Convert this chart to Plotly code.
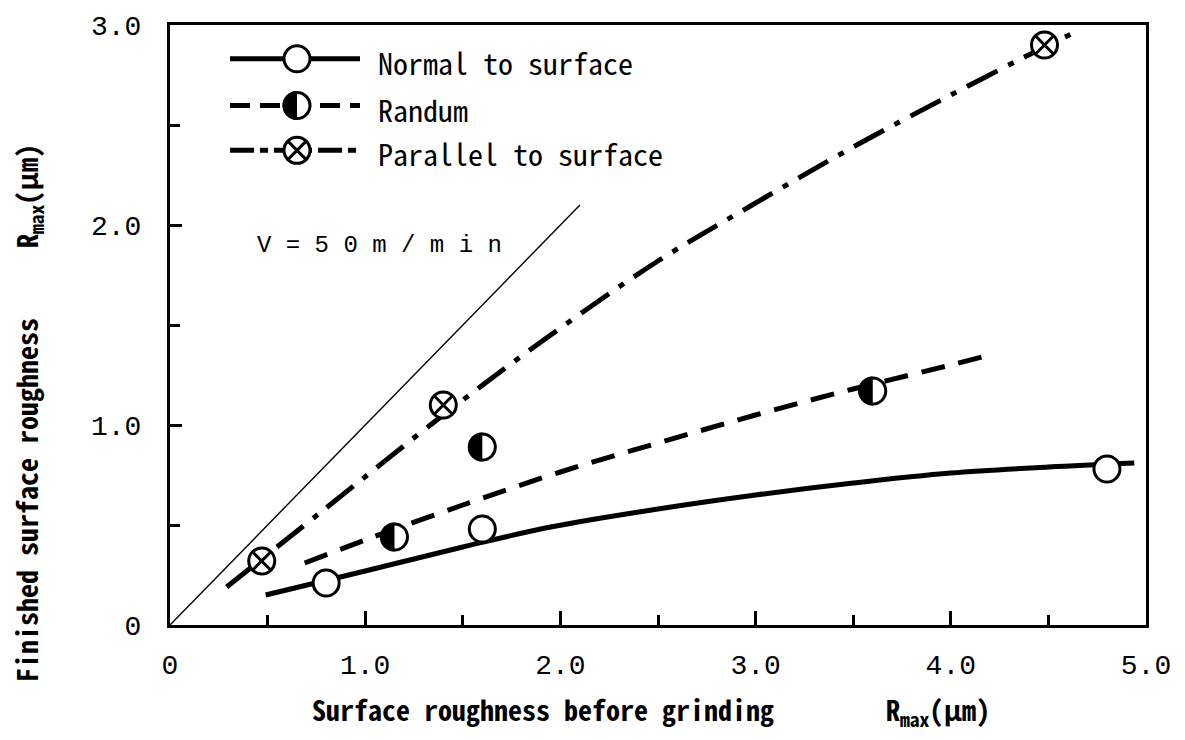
import plotly.graph_objects as go

# ---------------- data ----------------
normal_x = [0.80, 1.60, 4.80]
normal_y = [0.21, 0.48, 0.78]
randum_x = [1.15, 1.60, 3.60]
randum_y = [0.44, 0.89, 1.17]
parallel_x = [0.47, 1.40, 4.48]
parallel_y = [0.32, 1.10, 2.90]

# fitted curves as drawn in the figure
normal_curve_x = [0.49, 1.0, 1.5, 1.95, 2.5, 3.0, 3.5, 4.0, 4.5, 4.94]
normal_curve_y = [0.15, 0.27, 0.39, 0.49, 0.58, 0.65, 0.71, 0.76, 0.79, 0.81]
randum_curve_x = [0.69, 1.0, 1.5, 2.0, 2.5, 3.0, 3.5, 4.0, 4.22]
randum_curve_y = [0.31, 0.425, 0.60, 0.765, 0.91, 1.05, 1.18, 1.30, 1.355]
parallel_curve_x = [0.29, 0.78, 1.4, 1.95, 2.5, 3.0, 3.5, 4.0, 4.48, 4.65]
parallel_curve_y = [0.19, 0.57, 1.05, 1.45, 1.82, 2.11, 2.39, 2.65, 2.89, 2.97]

# reference line (finished = before)
ideal_x = [0.0, 2.1]
ideal_y = [0.0, 2.1]

x_ticks = [0, 1, 2, 3, 4, 5]
x_tick_text = ["0", "1.0", "2.0", "3.0", "4.0", "5.0"]
x_minor = [0.5, 1.5, 2.5, 3.5, 4.5]
y_ticks = [0, 1, 2, 3]
y_tick_text = ["0", "1.0", "2.0", "3.0"]
y_minor = [0.5, 1.5, 2.5]

legend_labels = ["Normal to surface", "Randum", "Parallel to surface"]
speed_label = "V = 5 0 m / m i n"

# ---------------- layout geometry ----------------
W, H = 1185, 740
L, R, T, B = 170, 39, 22, 115
PW, PH = W - L - R, H - T - B


def pxx(p):
    return (p - L) / PW


def pxy(p):
    return (H - B - p) / PH


MONO = "Noto Sans Mono CJK JP, DejaVu Sans Mono, monospace"
TICKF = "Liberation Mono"
LW = 5
MS = 26
MLW = 3

fig = go.Figure()

fig.add_trace(go.Scatter(x=ideal_x, y=ideal_y, mode="lines",
                         line=dict(color="black", width=1.4), hoverinfo="skip"))
fig.add_trace(go.Scatter(x=normal_curve_x, y=normal_curve_y, mode="lines",
                         line=dict(color="black", width=LW, shape="spline")))
fig.add_trace(go.Scatter(x=randum_curve_x, y=randum_curve_y, mode="lines",
                         line=dict(color="black", width=LW, shape="spline", dash="24px,14px")))
fig.add_trace(go.Scatter(x=parallel_curve_x, y=parallel_curve_y, mode="lines",
                         line=dict(color="black", width=LW, shape="spline",
                                   dash="34px,12px,6px,12px")))

fig.add_trace(go.Scatter(x=normal_x, y=normal_y, mode="markers", name=legend_labels[0],
                         marker=dict(symbol="circle", size=MS, color="white",
                                     line=dict(color="black", width=MLW))))
fig.add_trace(go.Scatter(x=randum_x, y=randum_y, mode="markers", name=legend_labels[1],
                         marker=dict(symbol="circle", size=MS, color="white",
                                     line=dict(color="black", width=MLW))))
fig.add_trace(go.Scatter(x=parallel_x, y=parallel_y, mode="markers", name=legend_labels[2],
                         marker=dict(symbol="circle-x", size=MS, color="white",
                                     line=dict(color="black", width=MLW))))

# half-filled (left black) circles
RAD = (MS + MLW) / 2.0
k = 0.5523 * RAD
half_path = (f"M0,{RAD:.2f} C{-k:.2f},{RAD:.2f} {-RAD:.2f},{k:.2f} {-RAD:.2f},0 "
             f"C{-RAD:.2f},{-k:.2f} {-k:.2f},{-RAD:.2f} 0,{-RAD:.2f} Z")

shapes = []
for xv, yv in zip(randum_x, randum_y):
    shapes.append(dict(type="path", xref="x", yref="y", xsizemode="pixel", ysizemode="pixel",
                       xanchor=xv, yanchor=yv, path=half_path,
                       fillcolor="black", line=dict(width=0)))

# ---------------- hand-drawn legend ----------------
leg_rows = [56, 103, 148]
leg_x0, leg_x1, leg_mx, leg_tx = 230, 360, 297, 376
leg_dash = ["solid", "20px,10px", "24px,6px,8px,6px"]
annotations = []
r0 = MS / 2.0
for i, yy in enumerate(leg_rows):
    shapes.append(dict(type="line", xref="paper", yref="paper",
                       x0=pxx(leg_x0), x1=pxx(leg_x1), y0=pxy(yy), y1=pxy(yy),
                       line=dict(color="black", width=LW, dash=leg_dash[i])))
    shapes.append(dict(type="circle", xref="paper", yref="paper",
                       xsizemode="pixel", ysizemode="pixel",
                       xanchor=pxx(leg_mx), yanchor=pxy(yy),
                       x0=-r0, x1=r0, y0=-r0, y1=r0,
                       fillcolor="white", line=dict(color="black", width=MLW)))
    if i == 1:
        shapes.append(dict(type="path", xref="paper", yref="paper",
                           xsizemode="pixel", ysizemode="pixel",
                           xanchor=pxx(leg_mx), yanchor=pxy(yy), path=half_path,
                           fillcolor="black", line=dict(width=0)))
    if i == 2:
        d = r0 * 0.7071
        for sgn in (1, -1):
            shapes.append(dict(type="line", xref="paper", yref="paper",
                               xsizemode="pixel", ysizemode="pixel",
                               xanchor=pxx(leg_mx), yanchor=pxy(yy),
                               x0=-d, x1=d, y0=-d * sgn, y1=d * sgn,
                               line=dict(color="black", width=MLW)))
    annotations.append(dict(text=legend_labels[i], xref="paper", yref="paper",
                            x=pxx(leg_tx), y=pxy(yy + 3), xanchor="left", yanchor="middle",
                            showarrow=False,
                            font=dict(family=MONO, size=30, color="black")))

annotations.append(dict(text=speed_label, xref="x", yref="y", x=0.435, y=1.90,
                        xanchor="left", yanchor="middle", showarrow=False,
                        font=dict(family=TICKF, size=24, color="black")))

NB = "\u00a0"
annotations.append(dict(text="Surface roughness before grinding" + NB * 8 +
                        "R<sub>max</sub>(μm)",
                        xref="paper", yref="paper", x=pxx(651), y=pxy(711),
                        xanchor="center", yanchor="middle", showarrow=False,
                        font=dict(family=MONO, size=28, color="black", weight="bold")))
annotations.append(dict(text="Finished surface roughness" + NB * 5 +
                        "R<sub>max</sub>(μm)",
                        xref="paper", yref="paper", x=pxx(28), y=pxy(412),
                        xanchor="center", yanchor="middle", showarrow=False, textangle=-90,
                        font=dict(family=MONO, size=28, color="black", weight="bold")))

axis_common = dict(showgrid=False, zeroline=False, showline=True, linewidth=3,
                   linecolor="black", mirror=True, ticks="inside", tickcolor="black",
                   tickwidth=2.5, tickfont=dict(family=TICKF, size=28, color="black"))

fig.update_layout(
    width=W, height=H, margin=dict(l=L, r=R, t=T, b=B),
    paper_bgcolor="white", plot_bgcolor="white", showlegend=False,
    xaxis=dict(range=[0, 5], tickmode="array", tickvals=x_ticks, ticktext=x_tick_text,
               ticklen=14, ticklabelstandoff=12,
               minor=dict(tickmode="array", tickvals=x_minor, ticks="inside",
                          ticklen=10, tickwidth=2.5, tickcolor="black"),
               **axis_common),
    yaxis=dict(range=[0, 3], tickmode="array", tickvals=y_ticks, ticktext=y_tick_text,
               ticklen=12, ticklabelstandoff=20,
               minor=dict(tickmode="array", tickvals=y_minor, ticks="inside",
                          ticklen=10, tickwidth=2.5, tickcolor="black"),
               **axis_common),
    shapes=shapes, annotations=annotations,
)

fig.write_html("out.html")
